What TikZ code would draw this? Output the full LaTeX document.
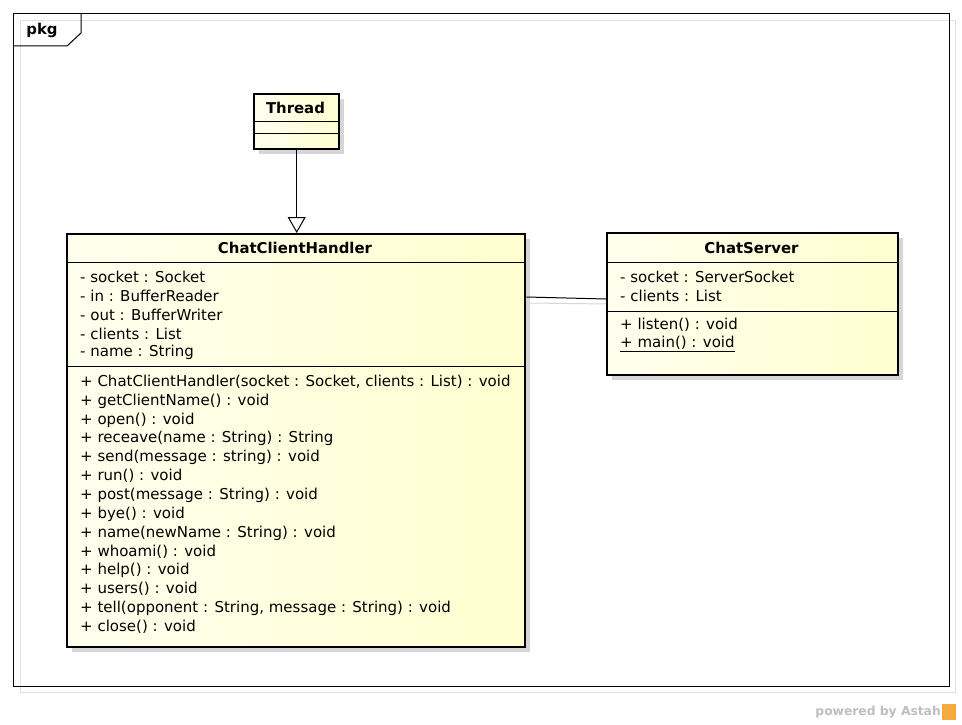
\documentclass[tikz,border=0pt]{standalone}
\usepackage{fontspec}
\setmainfont{DejaVu Sans}
\usetikzlibrary{arrows.meta,calc}

\definecolor{classfill}{RGB}{255,255,208}
\definecolor{shadowgray}{RGB}{214,214,214}
\definecolor{framegray}{RGB}{225,225,225}
\definecolor{astahgray}{RGB}{190,190,190}
\definecolor{astahorange}{RGB}{245,170,60}

\tikzset{
  classbox/.style={draw=black, line width=2.4pt, left color=classfill!35!white, right color=classfill,
    anchor=north west, inner sep=0pt},
  boxshadow/.style={fill=shadowgray},
  member/.style={anchor=west, inner sep=0pt, font=\fontsize{15}{17}\selectfont},
  classname/.style={inner sep=0pt, font=\bfseries\fontsize{14.9}{17}\selectfont},
}

\begin{document}
\begin{tikzpicture}[x=1pt, y=-1pt]
  \useasboundingbox (0,0) rectangle (962,725);

  % package frame
  \draw[framegray] (20,20) rectangle (955,692);
  \draw[line width=1pt] (13,14) rectangle (949,686);
  \draw[line width=1pt] (13,46) -- (67,46) -- (81,33) -- (81,14);
  \node[classname] (pkg) at (42,30) {pkg};

  % shadows
  \fill[boxshadow] (259,99) rectangle (344,154);
  \fill[boxshadow] (72,239) rectangle (530,652);
  \fill[boxshadow] (612,238) rectangle (903,380);

  % Thread
  \node[classbox, minimum width=85pt, minimum height=55pt] (thread) at (253,93) {};
  \draw[line width=1pt] (253,121) -- (338,121);
  \draw[line width=1pt] (253,133) -- (338,133);
  \node[classname] (threadname) at (295.5,108) {Thread};

  % ChatClientHandler
  \node[classbox, minimum width=458pt, minimum height=413pt] (cch) at (66,233) {};
  \draw[line width=1pt] (66,262) -- (524,262);
  \draw[line width=1pt] (66,366) -- (524,366);
  \node[classname] (cchname) at (295,248) {ChatClientHandler};

  \node[member] (a1) at (80,277) {- socket : Socket};
  \node[member] (a2) at (80,296) {- in : BufferReader};
  \node[member] (a3) at (80,315) {- out : BufferWriter};
  \node[member] (a4) at (80,334) {- clients : List};
  \node[member] (a5) at (80,352) {- name : String};

  \node[member] (m1) at (80,382) {+ ChatClientHandler(socket : Socket, clients : List) : void};
  \node[member] (m2) at (80,401) {+ getClientName() : void};
  \node[member] (m3) at (80,420) {+ open() : void};
  \node[member] (m4) at (80,438) {+ receave(name : String) : String};
  \node[member] (m5) at (80,457) {+ send(message : string) : void};
  \node[member] (m6) at (80,476) {+ run() : void};
  \node[member] (m7) at (80,495) {+ post(message : String) : void};
  \node[member] (m8) at (80,514) {+ bye() : void};
  \node[member] (m9) at (80,533) {+ name(newName : String) : void};
  \node[member] (m10) at (80,552) {+ whoami() : void};
  \node[member] (m11) at (80,570) {+ help() : void};
  \node[member] (m12) at (80,589) {+ users() : void};
  \node[member] (m13) at (80,608) {+ tell(opponent : String, message : String) : void};
  \node[member] (m14) at (80,627) {+ close() : void};

  % ChatServer
  \node[classbox, minimum width=291pt, minimum height=142pt] (srv) at (606,232) {};
  \draw[line width=1pt] (606,262) -- (897,262);
  \draw[line width=1pt] (606,311) -- (897,311);
  \node[classname] (srvname) at (751.5,248) {ChatServer};

  \node[member] (s1) at (620,277) {- socket : ServerSocket};
  \node[member] (s2) at (620,296) {- clients : List};
  \node[member] (s3) at (620,325) {+ listen() : void};
  \node[member] (s4) at (620,344) {\underline{+ main() : void}};

  % relations
  \draw[shadowgray, line width=1pt] ($(cch.north east)+(3,70)$) -- ($(srv.north west)+(0,72)$);
  \draw[line width=1pt] ($(cch.north east)+(0,64)$) -- ($(srv.north west)+(0,67)$);
  \draw[line width=1pt, -{Triangle[open, length=16pt, width=18pt, line width=1pt]}]
    (thread.south) -- (thread.south |- cch.north);

  % footer
  \node[anchor=east, inner sep=0pt, text=astahgray, font=\bfseries\fontsize{12.3}{14}\selectfont]
    (astah) at (941,712) {powered by Astah};
  \fill[astahorange] (942,704) rectangle (956,720);
\end{tikzpicture}
\end{document}
